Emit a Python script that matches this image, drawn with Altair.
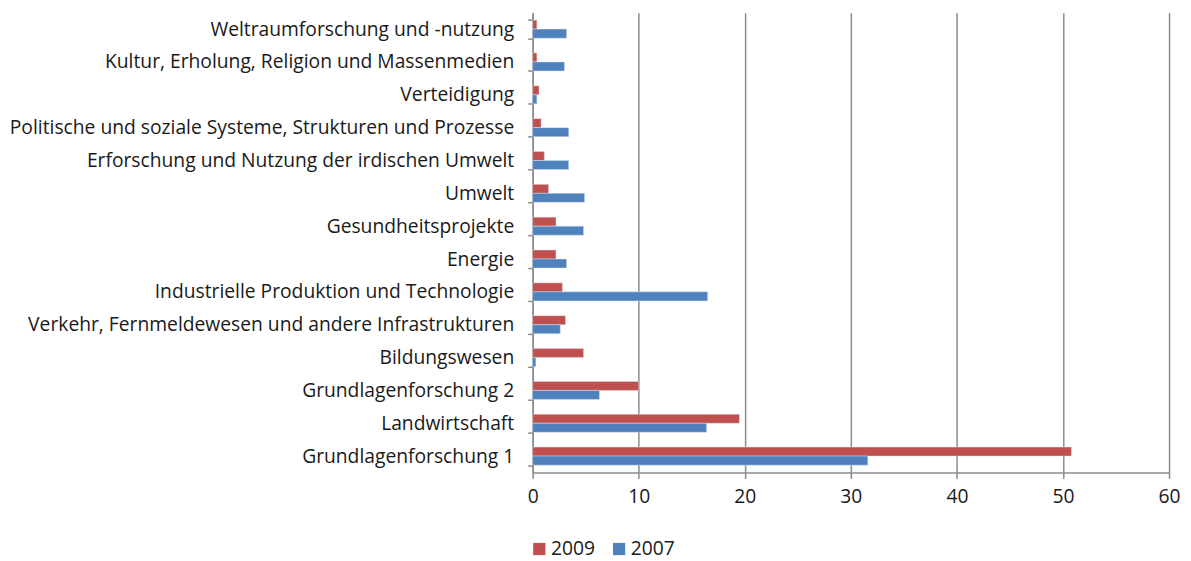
import altair as alt
import pandas as pd

categories = [
    "Weltraumforschung und -nutzung",
    "Kultur, Erholung, Religion und Massenmedien",
    "Verteidigung",
    "Politische und soziale Systeme, Strukturen und Prozesse",
    "Erforschung und Nutzung der irdischen Umwelt",
    "Umwelt",
    "Gesundheitsprojekte",
    "Energie",
    "Industrielle Produktion und Technologie",
    "Verkehr, Fernmeldewesen und andere Infrastrukturen",
    "Bildungswesen",
    "Grundlagenforschung 2",
    "Landwirtschaft",
    "Grundlagenforschung 1",
]
values_2009 = [0.4, 0.4, 0.6, 0.8, 1.1, 1.5, 2.2, 2.2, 2.8, 3.1, 4.8, 10.0, 19.5, 50.8]
values_2007 = [3.2, 3.0, 0.4, 3.4, 3.4, 4.9, 4.8, 3.2, 16.5, 2.6, 0.3, 6.3, 16.4, 31.6]
series = ["2009", "2007"]
x_ticks = [0, 10, 20, 30, 40, 50, 60]

rows = []
for c, v9, v7 in zip(categories, values_2009, values_2007):
    rows.append({"cat": c, "year": "2009", "value": v9})
    rows.append({"cat": c, "year": "2007", "value": v7})
df = pd.DataFrame(rows)

FONT = "Open Sans"
FS = 19.3

chart = alt.Chart(df).mark_bar(
    stroke="#dbe4f0", strokeWidth=0.6, strokeOpacity=0.8
).encode(
    y=alt.Y("cat:N", sort=categories, title=None,
            scale=alt.Scale(paddingInner=0.45, paddingOuter=0.225),
            axis=alt.Axis(tickBand="extent", ticks=True, tickSize=5,
                          tickColor="#8c8c8c", tickWidth=1.5,
                          domainColor="#8c8c8c", domainWidth=1.5,
                          labelFont=FONT, labelFontSize=FS, labelColor="#1a1a1a",
                          labelPadding=14, labelLimit=600, grid=False)),
    yOffset=alt.YOffset("year:N", sort=series),
    x=alt.X("value:Q", title=None,
            scale=alt.Scale(domain=[0, 60], nice=False),
            axis=alt.Axis(values=x_ticks, grid=True, gridColor="#8c8c8c",
                          gridWidth=1.5, tickColor="#8c8c8c", tickWidth=1.5,
                          tickSize=6, domainColor="#8c8c8c", domainWidth=1.5,
                          labelFont=FONT, labelFontSize=FS, labelColor="#1a1a1a",
                          labelPadding=9, labelFlush=False)),
    color=alt.Color("year:N", sort=series,
                    scale=alt.Scale(domain=series, range=["#C0504D", "#4F81BD"]),
                    legend=alt.Legend(title=None, orient="none", direction="horizontal",
                                      legendX=-3, legendY=528,
                                      symbolType="square", symbolSize=150,
                                      symbolStrokeWidth=0,
                                      labelFont=FONT, labelFontSize=FS,
                                      labelColor="#1a1a1a", columnPadding=14,
                                      labelOffset=2)),
).properties(
    width=638, height=461,
    autosize=alt.AutoSizeParams(type="none"),
    padding={"left": 526, "top": 4, "right": 14, "bottom": 88},
).configure_view(stroke=None)

chart.save("out.html", embed_options={"renderer": "svg", "actions": False})
